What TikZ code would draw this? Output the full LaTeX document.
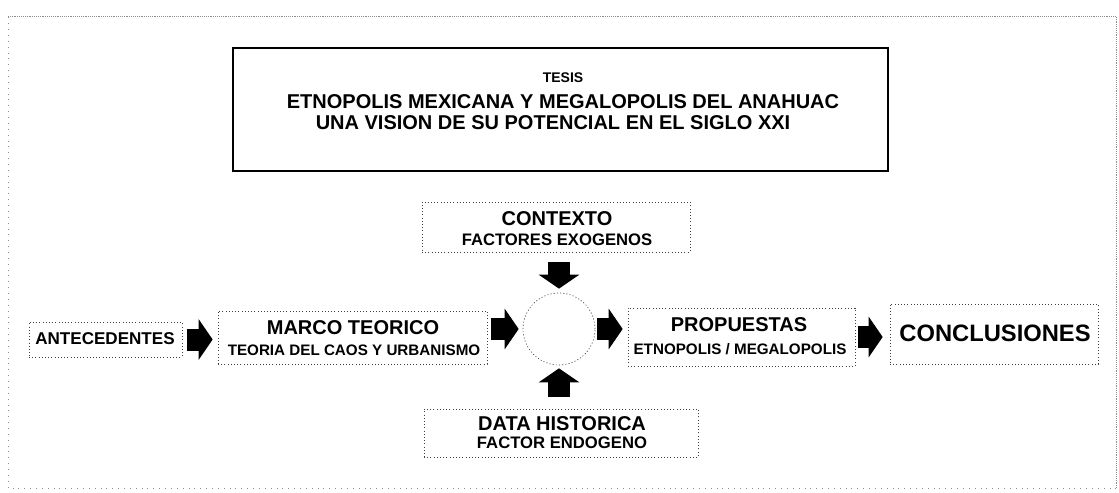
\documentclass[tikz,border=0pt]{standalone}
\usepackage{fontspec}
\setmainfont{Liberation Sans}
\usetikzlibrary{arrows.meta}

\begin{document}
\begin{tikzpicture}[x=0.75pt, y=-0.75pt,
  caja/.style={draw=black!75, line width=0.5pt, dash pattern=on 0.8pt off 1.6pt, inner sep=0pt},
  cab/.style={inner sep=0pt, font=\bfseries\fontsize{15}{18}\selectfont},
  sub/.style={inner sep=0pt, font=\bfseries\fontsize{12.5}{15}\selectfont},
  subchico/.style={inner sep=0pt, font=\bfseries\fontsize{11.4}{14}\selectfont},
  flecha/.style={line width=16.5pt, -{Triangle[length=10.5pt,width=30pt]}}]
  \useasboundingbox (0,0) rectangle (1119,492);
  % marco exterior
  \draw[black!45, line width=0.4pt, densely dotted] (8,16) -- (1116,16) -- (1116,488);
  \draw[black!45, line width=0.4pt, loosely dotted] (1116,488) -- (8,488) -- (8,16);
  % tesis
  \node[draw, line width=2.2pt, minimum width=491.25pt, minimum height=92.25pt] (tesis) at (560.5,109.5) {};
  \node[inner sep=0pt, font=\bfseries\fontsize{10.5}{12}\selectfont] (tesisT) at (563,78) {TESIS};
  \node[cab] (tituloA) at (563,102) {ETNOPOLIS MEXICANA Y MEGALOPOLIS DEL ANAHUAC};
  \node[cab] (tituloB) at (553,123) {UNA VISION DE SU POTENCIAL EN EL SIGLO XXI};
  % cajas
  \node[caja, minimum width=114.75pt, minimum height=26.25pt] (ant) at (105.5,339.5) {};
  \node[caja, minimum width=201.75pt, minimum height=39.75pt] (marco) at (352.5,337.5) {};
  \node[caja, minimum width=201pt, minimum height=37.5pt] (contexto) at (556,227) {};
  \node[caja, circle, minimum size=54pt] (circ) at (559,329) {};
  \node[caja, minimum width=170.25pt, minimum height=43.5pt] (prop) at (741.5,337) {};
  \node[caja, minimum width=156pt, minimum height=45pt] (concl) at (994,334) {};
  \node[caja, minimum width=205.5pt, minimum height=36pt] (data) at (561,433) {};
  % textos
  \node[inner sep=0pt, font=\bfseries\fontsize{12.8}{15}\selectfont] (antT) at (105,339) {ANTECEDENTES};
  \node[cab] (marcoT) at (353,328) {MARCO TEORICO};
  \node[subchico] (marcoS) at (354,350) {TEORIA DEL CAOS Y URBANISMO};
  \node[cab] (contextoT) at (557,219) {CONTEXTO};
  \node[sub] (contextoS) at (557,240) {FACTORES EXOGENOS};
  \node[cab] (propT) at (739,325) {PROPUESTAS};
  \node[subchico] (propS) at (740,349) {ETNOPOLIS / MEGALOPOLIS};
  \node[inner sep=0pt, font=\bfseries\fontsize{17.8}{20}\selectfont] (conclT) at (995,333) {CONCLUSIONES};
  \node[cab] (dataT) at (562,424) {DATA HISTORICA};
  \node[sub] (dataS) at (562,443) {FACTOR ENDOGENO};
  % flechas
  \draw[flecha, shorten <=3.75pt, shorten >=3.75pt] (ant.east) -- (ant.east -| marco.west);
  \draw[flecha, shorten <=3pt, shorten >=3pt] (marco.east |- circ.center) -- (circ.west);
  \draw[flecha, shorten <=1.5pt, shorten >=3.75pt] (circ.east) -- (circ.east -| prop.west);
  \draw[flecha, shorten <=2.25pt, shorten >=5.25pt] (prop.east) -- (prop.east -| concl.west);
  \draw[flecha, shorten <=7.5pt, shorten >=3pt] (contexto.south -| circ.center) -- (circ.north);
  \draw[flecha, shorten <=9pt, shorten >=2.25pt] (data.north -| circ.center) -- (circ.south);
\end{tikzpicture}
\end{document}
